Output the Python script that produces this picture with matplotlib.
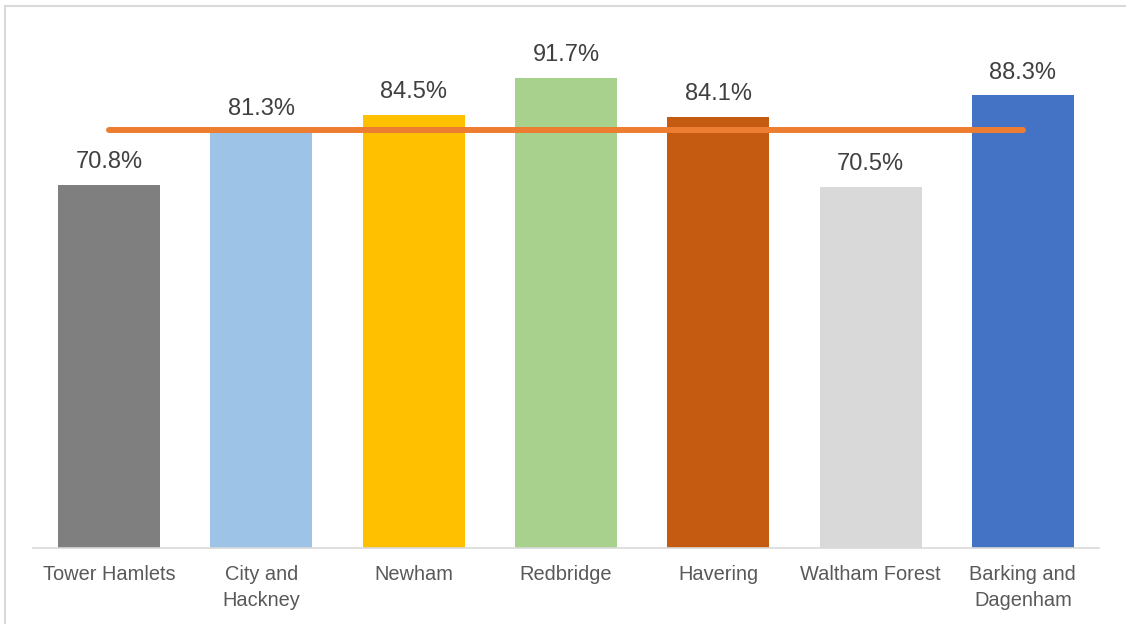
import matplotlib
matplotlib.use("Agg")
import matplotlib.pyplot as plt
from matplotlib.lines import Line2D

boroughs = ["Tower Hamlets", "City and\nHackney", "Newham", "Redbridge",
            "Havering", "Waltham Forest", "Barking and\nDagenham"]
rates = [70.8, 81.3, 84.5, 91.7, 84.1, 70.5, 88.3]
average = 81.6
bar_colors = ["#7F7F7F", "#9DC3E6", "#FFC000", "#A9D18E",
              "#C55A11", "#D9D9D9", "#4472C4"]

plt.rcParams["font.family"] = ["Liberation Sans", "DejaVu Sans"]

fig = plt.figure(figsize=(11.26, 6.24), dpi=100)
ax = fig.add_axes([33 / 1126, 76 / 624, 1066 / 1126, 512.5 / 624])

x = range(len(boroughs))
ax.bar(x, rates, width=0.67, color=bar_colors, zorder=2)
ax.plot([0, len(boroughs) - 1], [average, average], color="#ED7D31",
        lw=4.3, solid_capstyle="round", zorder=3)

for i, v in zip(x, rates):
    ax.annotate(f"{v:.1f}%", (i, v), xytext=(0, 12), textcoords="offset points",
                ha="center", va="baseline", fontsize=17, color="#404040")

ax.set_xlim(-0.5, len(boroughs) - 0.5)
ax.set_ylim(0, 100)
ax.set_xticks(list(x))
ax.set_xticklabels(boroughs, fontsize=14.4, color="#595959", linespacing=1.45)
ax.tick_params(axis="x", length=0, pad=12.5)
ax.set_yticks([])
for side in ["top", "right", "left"]:
    ax.spines[side].set_visible(False)
ax.spines["bottom"].set_color("#D9D9D9")
ax.spines["bottom"].set_linewidth(1.2)

# chart border (left and top visible)
fig.add_artist(Line2D([4.5 / 1126, 4.5 / 1126], [0, 1 - 6 / 624],
                      transform=fig.transFigure, color="#D9D9D9", lw=1.5))
fig.add_artist(Line2D([4.5 / 1126, 1], [1 - 6 / 624, 1 - 6 / 624],
                      transform=fig.transFigure, color="#D9D9D9", lw=1.5))

fig.savefig("out.png", dpi=100)
